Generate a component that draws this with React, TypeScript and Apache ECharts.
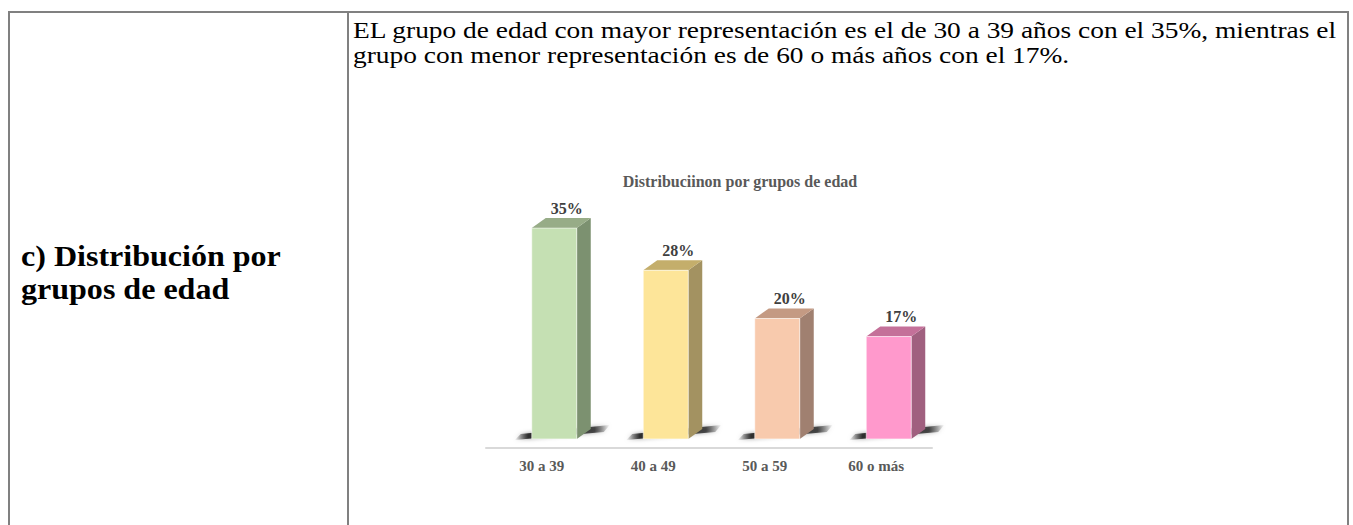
import React, { useEffect, useRef } from "react";
import * as echarts from "echarts";

const categories = ["30 a 39", "40 a 49", "50 a 59", "60 o más"];
const values = [35, 28, 20, 17];
const valueLabels = ["35%", "28%", "20%", "17%"];
const frontColors = ["#C5E0B3", "#FDE599", "#F8CAAD", "#FF99CC"];
const sideColors = ["#7C9170", "#A39261", "#A08070", "#A0607F"];
const topColors = ["#97AC87", "#C4AE6B", "#C49A83", "#C47099"];

const chartTitle = "Distribuciinon por grupos de edad";
const paragraphLines = [
  "EL grupo de edad con mayor representación es el de 30 a 39 años con el 35%, mientras el",
  "grupo con menor representación es de 60 o más años con el 17%.",
];
const sideLines = ["c) Distribución por", "grupos de edad"];

const SERIF = "Liberation Serif";

function measure(text: string, size: number, weight: string): number {
  const c = document.createElement("canvas");
  const ctx = c.getContext("2d")!;
  ctx.font = `${weight} ${size}px "${SERIF}"`;
  return ctx.measureText(text).width;
}

export default function App() {
  const ref = useRef<HTMLDivElement>(null);
  useEffect(() => {
    if (!ref.current) return;
    const chart = echarts.init(ref.current, null, { renderer: "svg" });

    const pSize = 23;
    const pScale = (1337 - 353) / measure(paragraphLines[0], pSize, "normal");

    const sSize = 29;
    const sScale = (281 - 21) / measure(sideLines[0], sSize, "bold");

    const borderColor = "#808080";
    const graphics: any[] = [
      { type: "line", shape: { x1: 8, y1: 12, x2: 1349, y2: 12 }, style: { stroke: borderColor, lineWidth: 2 } },
      { type: "line", shape: { x1: 9, y1: 12, x2: 9, y2: 525 }, style: { stroke: borderColor, lineWidth: 2 } },
      { type: "line", shape: { x1: 348, y1: 12, x2: 348, y2: 525 }, style: { stroke: borderColor, lineWidth: 2 } },
      { type: "line", shape: { x1: 1348, y1: 12, x2: 1348, y2: 525 }, style: { stroke: borderColor, lineWidth: 2 } },
      {
        type: "text", x: 740, y: 181,
        style: {
          text: chartTitle, fontFamily: SERIF, fontSize: 16, fontWeight: "bold", fill: "#595959",
          textAlign: "center", textVerticalAlign: "middle",
        },
      },
    ];
    paragraphLines.forEach((t, i) => {
      graphics.push({
        type: "text", x: 353, y: 30 + i * 25, scaleX: pScale,
        style: {
          text: t, fontFamily: SERIF, fontSize: pSize, fontWeight: "normal", fill: "#000",
          textAlign: "left", textVerticalAlign: "middle",
        },
      });
    });
    sideLines.forEach((t, i) => {
      graphics.push({
        type: "text", x: 21, y: 257 + i * 33, scaleX: sScale,
        style: {
          text: t, fontFamily: SERIF, fontSize: sSize, fontWeight: "bold", fill: "#000",
          textAlign: "left", textVerticalAlign: "middle",
        },
      });
    });

    const option: any = {
      animation: false,
      grid: { left: 486, right: 421, top: 198, bottom: 77 },
      xAxis: {
        type: "category",
        data: categories,
        axisLine: { onZero: false, lineStyle: { color: "#D9D9D9", width: 2 } },
        axisTick: { show: false },
        axisLabel: { margin: 10, fontSize: 15, fontWeight: "bold", color: "#595959", fontFamily: SERIF },
      },
      yAxis: { type: "value", min: -1.5, max: 40, show: false },
      graphic: graphics,
      series: [
        {
          type: "custom",
          data: values.map((v, i) => [i, v]),
          renderItem: (params: any, api: any) => {
            const idx = api.value(0);
            const val = api.value(1);
            const top = api.coord([idx, val]);
            const base = api.coord([idx, 0]);
            const cx = top[0];
            const w = 45, dx = 14, dy = 10;
            const x0 = cx - 10, x1 = x0 + w;
            const yt = top[1], yb = base[1];
            return {
              type: "group",
              children: [
                {
                  type: "polygon",
                  shape: {
                    points: [
                      [x0 - 17, yb + 1], [x0 - 11, yb - 5], [x1 + dx + 19, yb - dy - 4],
                      [x1 + dx + 13, yb - dy + 3],
                    ],
                  },
                  style: {
                    fill: new echarts.graphic.LinearGradient(0, 0, 1, 0, [
                      { offset: 0, color: "rgba(0,0,0,0)" },
                      { offset: 0.14, color: "rgba(0,0,0,0.75)" },
                      { offset: 0.84, color: "rgba(0,0,0,0.65)" },
                      { offset: 1, color: "rgba(0,0,0,0)" },
                    ]),
                    shadowBlur: 4,
                    shadowColor: "rgba(0,0,0,0.5)",
                  },
                },
                {
                  type: "polygon",
                  shape: { points: [[x1, yt], [x1 + dx, yt - dy], [x1 + dx, yb - dy], [x1, yb]] },
                  style: { fill: sideColors[idx] },
                },
                {
                  type: "polygon",
                  shape: { points: [[x0, yt], [x0 + dx, yt - dy], [x1 + dx, yt - dy], [x1, yt]] },
                  style: { fill: topColors[idx] },
                },
                {
                  type: "rect",
                  shape: { x: x0, y: yt, width: w, height: yb - yt },
                  style: { fill: frontColors[idx], stroke: "rgba(255,255,255,0.55)", lineWidth: 1 },
                },
                {
                  type: "text",
                  x: cx + 25,
                  y: yt - dy - 2,
                  style: {
                    text: valueLabels[idx], fontFamily: SERIF, fontSize: 16, fontWeight: "bold", fill: "#404040",
                    textAlign: "center", textVerticalAlign: "bottom",
                  },
                },
              ],
            };
          },
        },
      ],
    };
    chart.setOption(option);
    return () => chart.dispose();
  }, []);
  return (
    <div
      ref={ref}
      style={{ position: "absolute", left: 0, top: 0, width: 1353, height: 525, background: "#fff" }}
    />
  );
}
